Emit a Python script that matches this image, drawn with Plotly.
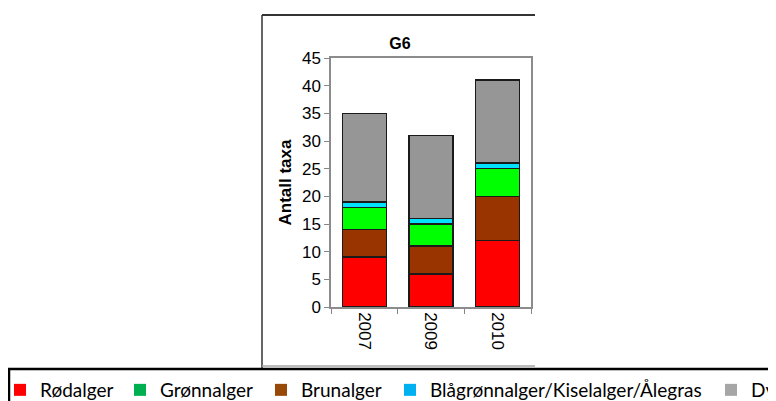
import plotly.graph_objects as go

# Antall taxa per gruppe, stasjon G6
years = ["2007", "2009", "2010"]
rodalger = [9, 6, 12]
brunalger = [5, 5, 8]
gronnalger = [4, 4, 5]
blagronn = [1, 1, 1]
dyr = [16, 15, 15]

W, H = 776, 401
OFF = 8  # page body margin, figure starts at (8, 8) on screen

# plot area in screen pixels
L, R, T, B = 331, 531, 58, 307


def px(x):
    return (x - L) / (R - L)


def py(y):
    return (B - y) / (B - T)


fig = go.Figure()

# stacked bars, bottom to top
bars = [
    ("Rødalger", rodalger, "#ff0000"),
    ("Brunalger", brunalger, "#993300"),
    ("Grønnalger", gronnalger, "#00ff00"),
    ("Blågrønnalger/Kiselalger/Ålegras", blagronn, "#00e0ff"),
    ("Dyr", dyr, "#969696"),
]
for name, vals, col in bars:
    fig.add_trace(go.Bar(
        x=years, y=vals, name=name, showlegend=False,
        marker=dict(color=col, line=dict(color="#1a1a1a", width=1.5)),
    ))

# legend entries (own colours, as in the pasted legend box)
legend_items = [
    ("Rødalger", "#ff0000", 37),
    ("Grønnalger", "#00b050", 157),
    ("Brunalger", "#984807", 298),
    ("Blågrønnalger/Kiselalger/Ålegras", "#00b0f0", 427),
    ("Dyr", "#a6a6a6", 748),
]
legends = {}
for i, (name, col, xtext) in enumerate(legend_items):
    key = "legend" if i == 0 else "legend%d" % (i + 1)
    fig.add_trace(go.Bar(
        x=[None], y=[None], name=name, legend=key,
        marker=dict(color=col, line=dict(width=0)),
    ))
    legends[key] = dict(
        x=px(xtext - 37), xanchor="left", y=py(390), yanchor="middle",
        bgcolor="rgba(0,0,0,0)", borderwidth=0,
        font=dict(family="Lato", size=19, color="#000000"),
    )

fig.update_layout(
    width=W, height=H,
    margin=dict(l=L - OFF, r=W - (R - OFF), t=T - OFF, b=H - (B - OFF),
                autoexpand=False),
    barmode="stack", bargap=0.34,
    paper_bgcolor="white", plot_bgcolor="white",
    font=dict(family="Liberation Sans, Arial", size=17, color="#000000"),
    title=dict(text="<b>G6</b>", xref="container", x=(400 - OFF) / W,
               xanchor="center", yref="container",
               y=1 - (43 - OFF) / H, yanchor="middle",
               font=dict(size=16)),
    **legends,
)

fig.update_yaxes(
    range=[0, 45], dtick=5, showgrid=False, zeroline=False,
    ticks="outside", ticklen=5, tickcolor="#868686",
    showline=True, linecolor="#8c8c8c", linewidth=1.5, mirror=True,
    title=dict(text="<b>Antall taxa</b>", standoff=6, font=dict(size=17)),
)
fig.update_xaxes(
    type="category", tickangle=90, showgrid=False,
    ticks="outside", ticklen=5, tickcolor="#868686", tickson="boundaries",
    showline=True, linecolor="#8c8c8c", linewidth=1.5, mirror=True,
)

# frame of the pasted chart and legend box
fig.add_shape(type="line", xref="paper", yref="paper",
              x0=px(262), x1=px(535), y0=py(15), y1=py(15),
              line=dict(color="#333333", width=2))
fig.add_shape(type="line", xref="paper", yref="paper",
              x0=px(262), x1=px(262), y0=py(15), y1=py(368),
              line=dict(color="#333333", width=1.5))
fig.add_shape(type="line", xref="paper", yref="paper",
              x0=px(262), x1=px(535), y0=py(366), y1=py(366),
              line=dict(color="#a6a6a6", width=1.5))
fig.add_shape(type="rect", xref="paper", yref="paper",
              x0=px(9), x1=px(800), y0=py(369), y1=py(430),
              line=dict(color="#000000", width=2.5))

fig.write_html("out.html")
